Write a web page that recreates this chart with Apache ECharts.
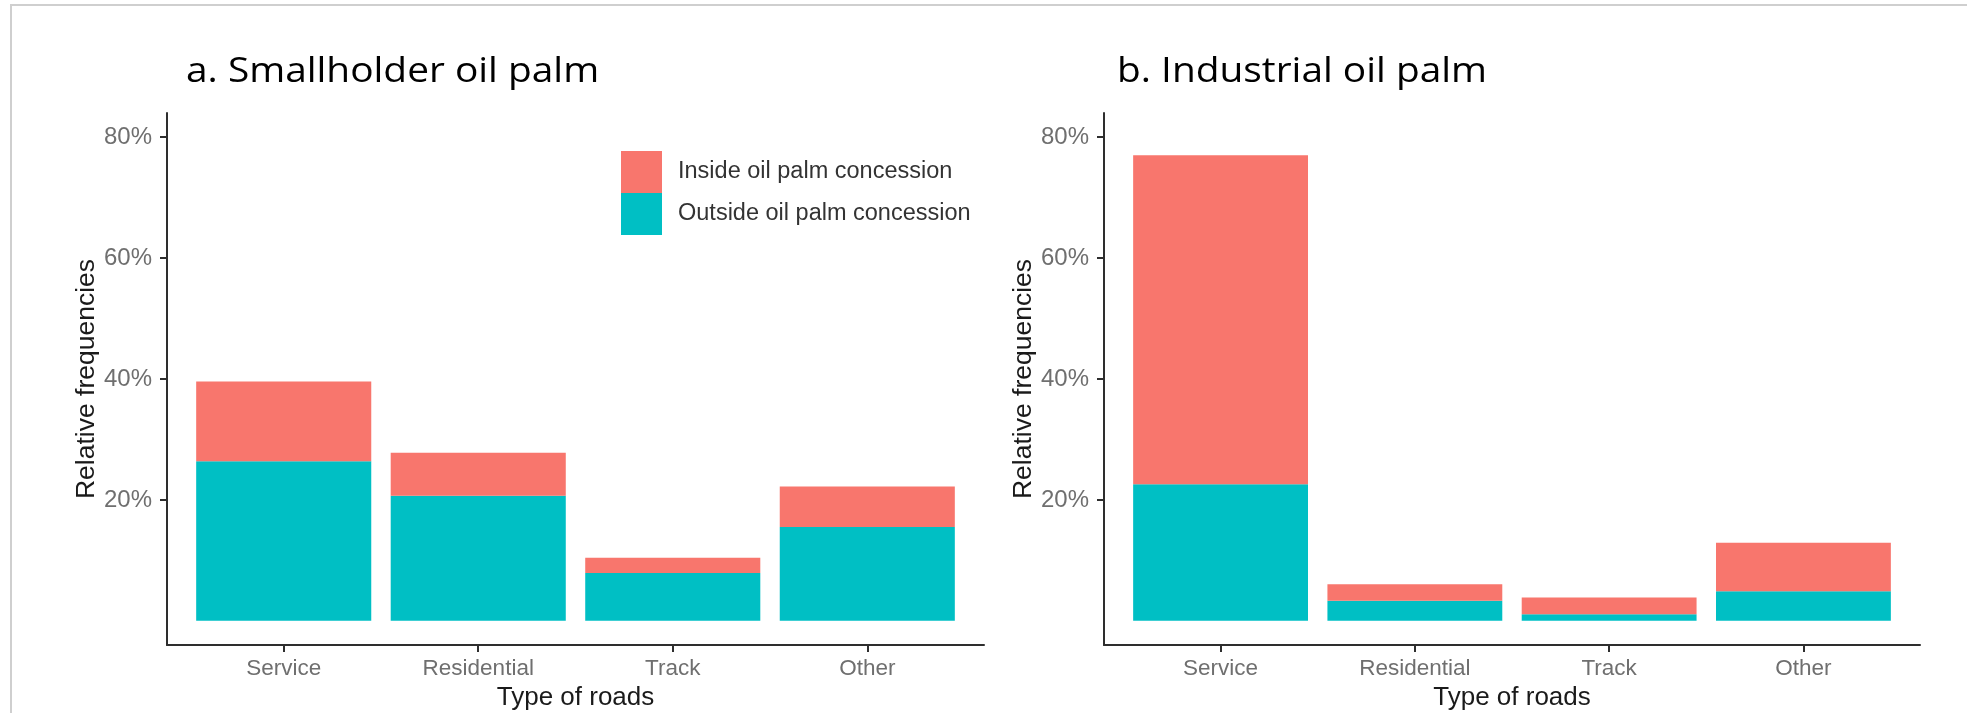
<!DOCTYPE html>
<html>
<head>
<meta charset="utf-8">
<title>Road types in oil palm areas</title>
<script src="https://cdn.jsdelivr.net/npm/echarts@6/dist/echarts.min.js"></script>
<style>
  html, body { margin: 0; padding: 0; background: #ffffff; }
  #chart { width: 1967px; height: 713px; }
</style>
</head>
<body>
<div id="chart"></div>
<script>
// Road categories shared by both panels
const categories = ['Service', 'Residential', 'Track', 'Other'];

// Relative frequencies (%) per road type
const smallholderOutside = [26.4, 20.7, 7.9, 15.5];
const smallholderInside  = [13.2, 7.1, 2.55, 6.7];
const industrialOutside  = [22.6, 3.3, 1.1, 4.9];
const industrialInside   = [54.4, 2.75, 2.75, 8.0];

// Tick values and labels
const yTicks = [20, 40, 60, 80];
const xTicks = [1, 2, 3, 4];

const panelTitles = ['a. Smallholder oil palm', 'b. Industrial oil palm'];
const seriesNames = ['Inside oil palm concession', 'Outside oil palm concession'];
const colors = { inside: '#F8766D', outside: '#00BFC4' };

const sansFont = '"Liberation Sans", Arial, sans-serif';
const axisColor = '#2e2e2e';
const tickLabelColor = '#6f6f6f';

// Panel frames: the axis frame spans the categories plus 0.6 of a slot on each side
const Y_MIN = -4, Y_MAX = 84;
const X_MIN = 0.4, X_MAX = 4.6;
const panels = [
  { left: 167, width: 817 },
  { left: 1104, width: 816 }
];
const TOP = 113, HEIGHT = 532;

// fixed grid rectangles: labels and names may sit outside without shrinking the plot
function frameGrid(p) {
  return { left: p.left, top: TOP, width: p.width, height: HEIGHT, outerBoundsMode: 'none', containLabel: false };
}
// bar area: the span from 0.5 to 4.5 on the frame axis, one band per category
function barGrid(p) {
  const unit = p.width / (X_MAX - X_MIN);
  return {
    left: p.left + (0.5 - X_MIN) * unit, top: TOP, width: 4 * unit, height: HEIGHT,
    outerBoundsMode: 'none', containLabel: false
  };
}

function frameXAxis(gridIndex) {
  return {
    type: 'value',
    gridIndex: gridIndex,
    min: X_MIN,
    max: X_MAX,
    name: 'Type of roads',
    nameLocation: 'middle',
    nameGap: 38,
    nameTextStyle: { fontFamily: sansFont, fontSize: 26, color: '#1a1a1a' },
    axisLine: { show: true, onZero: false, lineStyle: { color: axisColor, width: 2 } },
    axisTick: { show: true, customValues: xTicks, length: 7, lineStyle: { color: axisColor, width: 2 } },
    axisLabel: {
      customValues: xTicks,
      margin: 12,
      fontFamily: sansFont,
      fontSize: 22.5,
      color: tickLabelColor,
      formatter: function (v) { return categories[Math.round(v) - 1] || ''; }
    },
    splitLine: { show: false }
  };
}

function frameYAxis(gridIndex) {
  return {
    type: 'value',
    gridIndex: gridIndex,
    min: Y_MIN,
    max: Y_MAX,
    name: 'Relative frequencies',
    nameLocation: 'middle',
    nameGap: 67,
    nameTextStyle: { fontFamily: sansFont, fontSize: 26.5, color: '#1a1a1a' },
    axisLine: { show: true, onZero: false, lineStyle: { color: axisColor, width: 2 } },
    axisTick: { show: true, customValues: yTicks, length: 7, lineStyle: { color: axisColor, width: 2 } },
    axisLabel: {
      customValues: yTicks,
      margin: 15,
      fontFamily: sansFont,
      fontSize: 24,
      color: tickLabelColor,
      formatter: '{value}%'
    },
    splitLine: { show: false }
  };
}

function barXAxis(gridIndex) {
  return { type: 'category', gridIndex: gridIndex, data: categories, show: false, boundaryGap: true };
}
function barYAxis(gridIndex) {
  return { type: 'value', gridIndex: gridIndex, min: Y_MIN, max: Y_MAX, show: false, splitLine: { show: false } };
}

function barSeries(name, values, color, axisIndex) {
  return {
    type: 'bar',
    name: name,
    xAxisIndex: axisIndex,
    yAxisIndex: axisIndex,
    stack: 'panel' + axisIndex,
    barWidth: '90%',
    data: values,
    itemStyle: { color: color },
    emphasis: { disabled: true }
  };
}

const chart = echarts.init(document.getElementById('chart'), null, { renderer: 'canvas' });

chart.setOption({
  backgroundColor: '#ffffff',
  animation: false,
  grid: [
    frameGrid(panels[0]), frameGrid(panels[1]),
    barGrid(panels[0]), barGrid(panels[1])
  ],
  xAxis: [frameXAxis(0), frameXAxis(1), barXAxis(2), barXAxis(3)],
  yAxis: [frameYAxis(0), frameYAxis(1), barYAxis(2), barYAxis(3)],
  legend: {
    data: seriesNames,
    orient: 'vertical',
    left: 621,
    top: 151,
    padding: 0,
    itemGap: 0,
    itemWidth: 41,
    itemHeight: 42,
    icon: 'rect',
    selectedMode: false,
    textStyle: {
      fontFamily: sansFont,
      fontSize: 23.5,
      color: '#333333',
      padding: [0, 0, 0, 11]
    }
  },
  series: [
    barSeries(seriesNames[1], smallholderOutside, colors.outside, 2),
    barSeries(seriesNames[0], smallholderInside, colors.inside, 2),
    barSeries(seriesNames[1], industrialOutside, colors.outside, 3),
    barSeries(seriesNames[0], industrialInside, colors.inside, 3)
  ],
  graphic: [
    // frame lines along the top and left edges
    { type: 'line', silent: true, shape: { x1: 10, y1: 5, x2: 1967, y2: 5 }, style: { stroke: '#cfcfcf', lineWidth: 2 } },
    { type: 'line', silent: true, shape: { x1: 11, y1: 5, x2: 11, y2: 713 }, style: { stroke: '#cfcfcf', lineWidth: 2 } },
    // panel headings
    {
      type: 'text', silent: true, x: 186, y: 72, scaleX: 1.11,
      style: { text: panelTitles[0], fontFamily: '"Open Sans", sans-serif', fontSize: 35, fill: '#000000', verticalAlign: 'middle', align: 'left' }
    },
    {
      type: 'text', silent: true, x: 1117, y: 72, scaleX: 1.11,
      style: { text: panelTitles[1], fontFamily: '"Open Sans", sans-serif', fontSize: 35, fill: '#000000', verticalAlign: 'middle', align: 'left' }
    }
  ]
});
</script>
</body>
</html>
